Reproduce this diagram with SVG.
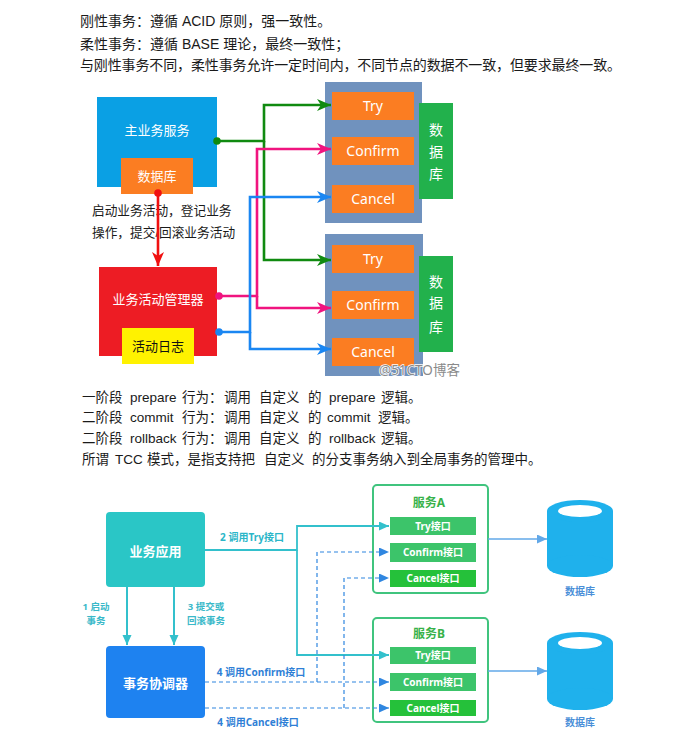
<svg xmlns="http://www.w3.org/2000/svg" width="681" height="747" viewBox="0 0 681 747">
<defs>
<style>
.t{font-family:"Liberation Sans","Noto Sans CJK SC",sans-serif;fill:#1a1a1a}
.w{font-family:"Noto Sans","Noto Sans CJK SC",sans-serif;fill:#fff;text-anchor:middle}
.b{font-family:"Noto Sans","Noto Sans CJK SC",sans-serif;font-weight:bold;text-anchor:middle}
.conn{fill:none}
</style>
<marker id="aG" markerUnits="userSpaceOnUse" markerWidth="16" markerHeight="14" refX="14" refY="6" orient="auto"><path d="M0,0 L14,6 L0,12 L4,6 z" fill="#108a10"/></marker>
<marker id="aP" markerUnits="userSpaceOnUse" markerWidth="16" markerHeight="14" refX="14" refY="6" orient="auto"><path d="M0,0 L14,6 L0,12 L4,6 z" fill="#f0147f"/></marker>
<marker id="aB" markerUnits="userSpaceOnUse" markerWidth="16" markerHeight="14" refX="14" refY="6" orient="auto"><path d="M0,0 L14,6 L0,12 L4,6 z" fill="#1a86f2"/></marker>
<marker id="aR" markerUnits="userSpaceOnUse" markerWidth="16" markerHeight="14" refX="14" refY="6" orient="auto"><path d="M0,0 L14,6 L0,12 L4,6 z" fill="#f01010"/></marker>
<marker id="aT" markerUnits="userSpaceOnUse" markerWidth="12" markerHeight="10" refX="10" refY="4.5" orient="auto"><path d="M0,0 L10,4.5 L0,9 z" fill="#33c0cc"/></marker>
<marker id="aD" markerUnits="userSpaceOnUse" markerWidth="12" markerHeight="10" refX="10" refY="4.5" orient="auto"><path d="M0,0 L10,4.5 L0,9 z" fill="#2f86e0"/></marker>
<marker id="aL" markerUnits="userSpaceOnUse" markerWidth="12" markerHeight="10" refX="10" refY="4.5" orient="auto"><path d="M0,0 L10,4.5 L0,9 z" fill="#62a8e8"/></marker>
</defs>
<rect width="681" height="747" fill="#fff"/>

<!-- top text -->
<g id="intro" font-size="14">
<text class="t" x="80" y="26">刚性事务：遵循 ACID 原则，强一致性。</text>
<text class="t" x="80" y="49">柔性事务：遵循 BASE 理论，最终一致性；</text>
<text class="t" x="80" y="70" textLength="541" lengthAdjust="spacing">与刚性事务不同，柔性事务允许一定时间内，不同节点的数据不一致，但要求最终一致。</text>
</g>

<!-- upper diagram nodes -->
<g id="main-service"><rect x="97" y="97" width="120" height="90" fill="#0aa0e4"/><text class="w" x="157" y="135" font-size="13">主业务服务</text></g>
<g id="main-db"><rect x="121" y="158" width="72" height="36" fill="#fb7d22"/><text class="w" x="157" y="181" font-size="13">数据库</text></g>
<g id="note"><text class="t" x="92" y="215" font-size="12.7">启动业务活动，登记业务</text><text class="t" x="92" y="237" font-size="12.7">操作，提交/回滚业务活动</text></g>
<g id="activity-manager"><rect x="99" y="267" width="118" height="89" fill="#ed1c24"/><text class="w" x="158" y="304" font-size="13">业务活动管理器</text></g>
<g id="activity-log"><rect x="122" y="328" width="72" height="36" fill="#fff200"/><text x="158" y="351" font-size="13" text-anchor="middle" fill="#111" font-family="Noto Sans CJK SC,sans-serif">活动日志</text></g>

<g id="service1">
<rect x="325" y="82" width="97" height="141" fill="#7092be"/>
<rect x="332" y="92" width="82" height="28" fill="#fb7d22"/><text class="w" x="373" y="111" font-size="14">Try</text>
<rect x="332" y="137" width="82" height="28" fill="#fb7d22"/><text class="w" x="373" y="156" font-size="14">Confirm</text>
<rect x="332" y="185" width="82" height="28" fill="#fb7d22"/><text class="w" x="373" y="204" font-size="14">Cancel</text>
</g>
<g id="db1"><rect x="419" y="103" width="34" height="96" fill="#22b14c"/>
<text class="w" x="436" y="135" font-size="14">数</text><text class="w" x="436" y="157" font-size="14">据</text><text class="w" x="436" y="179" font-size="14">库</text></g>

<g id="service2">
<rect x="325" y="234" width="98" height="142" fill="#7092be"/>
<rect x="332" y="245" width="82" height="28" fill="#fb7d22"/><text class="w" x="373" y="264" font-size="14">Try</text>
<rect x="332" y="291" width="82" height="28" fill="#fb7d22"/><text class="w" x="373" y="310" font-size="14">Confirm</text>
<rect x="332" y="338" width="82" height="28" fill="#fb7d22"/><text class="w" x="373" y="357" font-size="14">Cancel</text>
</g>
<g id="db2"><rect x="419" y="256" width="34" height="96" fill="#22b14c"/>
<text class="w" x="436" y="287" font-size="14">数</text><text class="w" x="436" y="308" font-size="14">据</text><text class="w" x="436" y="332" font-size="14">库</text></g>

<!-- upper connectors -->
<g id="connectors-upper" class="conn" stroke-width="2.6">
<path d="M217,141 H264 V105 H331" stroke="#108a10" marker-end="url(#aG)"/>
<path d="M264,141 V260 H331" stroke="#108a10" marker-end="url(#aG)"/>
<circle cx="217" cy="141" r="3.8" fill="#108a10" stroke="none"/>
<path d="M219,296 H257 V149 H331" stroke="#f0147f" marker-end="url(#aP)"/>
<path d="M257,296 V308 H331" stroke="#f0147f" marker-end="url(#aP)"/>
<circle cx="219" cy="296" r="3.8" fill="#f0147f" stroke="none"/>
<path d="M219,332 H250 V197 H331" stroke="#1a86f2" marker-end="url(#aB)"/>
<path d="M250,332 V349 H331" stroke="#1a86f2" marker-end="url(#aB)"/>
<circle cx="219" cy="332" r="3.8" fill="#1a86f2" stroke="none"/>
<path d="M158,193 V266" stroke="#f01010" marker-end="url(#aR)"/>
<circle cx="158" cy="193" r="3.8" fill="#f01010" stroke="none"/>
</g>
<text x="379" y="375" font-size="13.5" font-family="Noto Sans,Noto Sans CJK SC,sans-serif" fill="#8a8a8a" stroke="#fff" stroke-width="1.5" paint-order="stroke">@51CTO博客</text>

<!-- middle text -->
<g id="phases" class="t" font-size="13.5">
<text y="402"><tspan x="82">一阶段</tspan><tspan x="130">prepare</tspan><tspan x="182">行为：</tspan><tspan x="224">调用</tspan><tspan x="259">自定义</tspan><tspan x="308">的</tspan><tspan x="329">prepare</tspan><tspan x="381">逻辑。</tspan></text>
<text y="422"><tspan x="82">二阶段</tspan><tspan x="130">commit</tspan><tspan x="182">行为：</tspan><tspan x="224">调用</tspan><tspan x="259">自定义</tspan><tspan x="308">的</tspan><tspan x="327">commit</tspan><tspan x="378">逻辑。</tspan></text>
<text y="443"><tspan x="82">二阶段</tspan><tspan x="130">rollback</tspan><tspan x="182">行为：</tspan><tspan x="224">调用</tspan><tspan x="259">自定义</tspan><tspan x="308">的</tspan><tspan x="329">rollback</tspan><tspan x="381">逻辑。</tspan></text>
<text y="464"><tspan x="82">所谓</tspan><tspan x="115">TCC</tspan><tspan x="147">模式，是指支持把</tspan><tspan x="264">自定义</tspan><tspan x="312">的分支事务纳入到全局事务的管理中。</tspan></text>
</g>

<!-- lower diagram nodes -->
<g id="app"><rect x="106" y="512" width="99" height="75" rx="4" fill="#2ac6c6"/><text class="b" x="155.5" y="556" font-size="13" fill="#fff">业务应用</text></g>
<g id="coordinator"><rect x="106" y="646" width="99" height="72" rx="4" fill="#1e82f0"/><text class="b" x="155.5" y="688" font-size="13" fill="#fff">事务协调器</text></g>

<g id="serviceA">
<rect x="373" y="485" width="115" height="108" rx="4" fill="#fff" stroke="#40c47e" stroke-width="2"/>
<text class="b" x="429" y="507" font-size="12" fill="#38b24a">服务A</text>
<rect x="390" y="517" width="86" height="18" fill="#3cc46a"/><text class="b" x="433" y="530" font-size="10" fill="#fff">Try接口</text>
<rect x="390" y="543" width="86" height="19" fill="#3cc46a"/><text class="b" x="433" y="556" font-size="10" fill="#fff">Confirm接口</text>
<rect x="390" y="570" width="86" height="17" fill="#25c13a"/><text class="b" x="433" y="582" font-size="10" fill="#fff">Cancel接口</text>
</g>
<g id="serviceB">
<rect x="373" y="618" width="115" height="104" rx="4" fill="#fff" stroke="#40c47e" stroke-width="2"/>
<text class="b" x="429" y="638" font-size="12" fill="#38b24a">服务B</text>
<rect x="390" y="647" width="86" height="17" fill="#3cc46a"/><text class="b" x="433" y="659" font-size="10" fill="#fff">Try接口</text>
<rect x="390" y="673" width="86" height="18" fill="#3cc46a"/><text class="b" x="433" y="686" font-size="10" fill="#fff">Confirm接口</text>
<rect x="390" y="700" width="86" height="16" fill="#25c13a"/><text class="b" x="433" y="712" font-size="10" fill="#fff">Cancel接口</text>
</g>
<g id="dbA">
<rect x="547" y="511" width="66" height="55" fill="#1fb1ec"/>
<ellipse cx="580" cy="566" rx="33" ry="11" fill="#1fb1ec"/>
<ellipse cx="580" cy="511" rx="33" ry="11" fill="#1fb1ec"/>
<ellipse cx="580" cy="511" rx="22" ry="6" fill="#fff"/>
<text class="b" x="580" y="595" font-size="10" fill="#4a8fd8">数据库</text>
</g>
<g id="dbB">
<rect x="547" y="643" width="66" height="56" fill="#1fb1ec"/>
<ellipse cx="580" cy="699" rx="33" ry="11" fill="#1fb1ec"/>
<ellipse cx="580" cy="643" rx="33" ry="11" fill="#1fb1ec"/>
<ellipse cx="580" cy="643" rx="22" ry="6" fill="#fff"/>
<text class="b" x="580" y="726" font-size="10" fill="#4a8fd8">数据库</text>
</g>

<!-- lower connectors -->
<g id="connectors-lower" class="conn">
<path d="M127,587 V645" stroke="#33c0cc" stroke-width="2" marker-end="url(#aT)"/>
<path d="M174,587 V645" stroke="#33c0cc" stroke-width="2" marker-end="url(#aT)"/>
<path d="M205,550 H297 V526 H389" stroke="#33c0cc" stroke-width="1.8" marker-end="url(#aT)"/>
<path d="M297,550 V655 H389" stroke="#33c0cc" stroke-width="1.8" marker-end="url(#aT)"/>
<path d="M205,682 H389" stroke="#2f86e0" stroke-width="1.2" stroke-dasharray="4,3" marker-end="url(#aD)"/>
<path d="M317,682 V552 H389" stroke="#2f86e0" stroke-width="1.2" stroke-dasharray="4,3" marker-end="url(#aD)"/>
<path d="M205,708 H389" stroke="#2f86e0" stroke-width="1.2" stroke-dasharray="4,3" marker-end="url(#aD)"/>
<path d="M344,708 V578 H389" stroke="#2f86e0" stroke-width="1.2" stroke-dasharray="4,3" marker-end="url(#aD)"/>
<path d="M488,539 H547" stroke="#62a8e8" stroke-width="1.5" marker-end="url(#aL)"/>
<path d="M488,671 H547" stroke="#62a8e8" stroke-width="1.5" marker-end="url(#aL)"/>
</g>
<g id="lower-labels" font-size="10">
<text class="b" x="96" y="610" font-size="9.5" fill="#3ab9c9">1 启动</text>
<text class="b" x="96" y="624" font-size="9.5" fill="#3ab9c9">事务</text>
<text class="b" x="206" y="610" font-size="9.5" fill="#3ab9c9">3 提交或</text>
<text class="b" x="206" y="624" font-size="9.5" fill="#3ab9c9">回滚事务</text>
<text class="b" x="252" y="541" fill="#2bb6c8">2 调用Try接口</text>
<text class="b" x="261" y="676" fill="#2f7fd6">4 调用Confirm接口</text>
<text class="b" x="258" y="726" fill="#2f7fd6">4 调用Cancel接口</text>
</g>
</svg>
